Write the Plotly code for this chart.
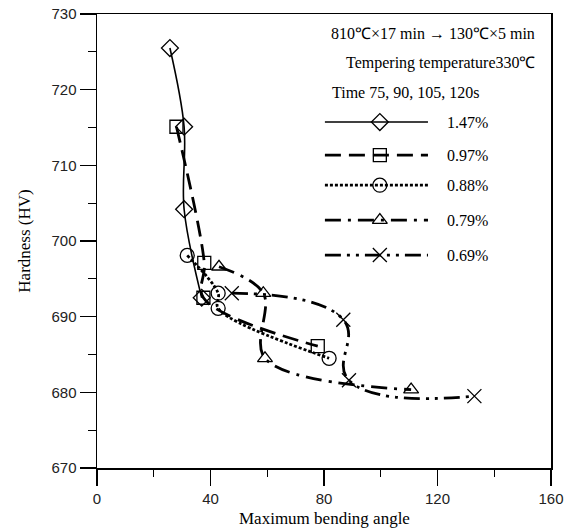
import plotly.graph_objects as go

# ---- data ----
series_names = ["1.47%", "0.97%", "0.88%", "0.79%", "0.69%"]
angle_147 = [25.7, 30.7, 30.7, 36.9]
hard_147 = [725.5, 715.1, 704.2, 692.5]
angle_097 = [28.0, 37.8, 37.5, 77.8]
hard_097 = [715.1, 697.1, 692.5, 686.1]
angle_088 = [31.8, 42.7, 42.7, 81.8]
hard_088 = [698.1, 693.1, 691.1, 684.5]
angle_079 = [43.0, 58.6, 59.2, 110.7]
hard_079 = [696.6, 693.1, 684.5, 680.35]
angle_069 = [47.5, 86.8, 88.8, 133.0]
hard_069 = [693.1, 689.6, 681.6, 679.5]

x_ticks = [0, 40, 80, 120, 160]
x_minor = [20, 60, 100, 140]
y_ticks = [670, 680, 690, 700, 710, 720, 730]
y_minor = [675, 685, 695, 705, 715, 725]

styles = [
    dict(symbol="diamond-open", dash="solid", width=1.6, size=13, smooth=1.0),
    dict(symbol="square-open", dash="16px,8px", width=2.8, size=13, smooth=1.0),
    dict(symbol="circle-open", dash="3px,2px", width=2.8, size=14, smooth=1.0),
    dict(symbol="triangle-up-open", dash="16px,7px,3px,7px", width=2.8, size=13, smooth=1.0),
    dict(symbol="x-thin-open", dash="16px,6px,3px,6px,3px,6px", width=2.8, size=14, smooth=1.3),
]
xs = [angle_147, angle_097, angle_088, angle_079, angle_069]
ys = [hard_147, hard_097, hard_088, hard_079, hard_069]

fig = go.Figure()
for name, x, y, st in zip(series_names, xs, ys, styles):
    fig.add_trace(go.Scatter(
        x=x, y=y, mode="lines", name=name, showlegend=False,
        line=dict(color="black", width=st["width"], dash=st["dash"],
                  shape="spline", smoothing=st["smooth"]),
        hoverinfo="skip"))
    fig.add_trace(go.Scatter(
        x=x, y=y, mode="markers", showlegend=False,
        marker=dict(symbol=st["symbol"], size=st["size"], color="black",
                    line=dict(color="black", width=1.3))))

# ---- hand-drawn legend on a hidden 0..1 axis pair ----
legend_rows = [0.762, 0.689, 0.623, 0.546, 0.469]
for name, row, st in zip(series_names, legend_rows, styles):
    fig.add_trace(go.Scatter(
        x=[0.502, 0.729], y=[row, row], xaxis="x2", yaxis="y2",
        mode="lines", showlegend=False, hoverinfo="skip",
        line=dict(color="black", width=st["width"], dash=st["dash"])))
    fig.add_trace(go.Scatter(
        x=[0.623], y=[row], xaxis="x2", yaxis="y2",
        mode="markers", showlegend=False, hoverinfo="skip",
        marker=dict(symbol=st["symbol"], size=st["size"], color="black",
                    line=dict(color="black", width=1.3))))
    fig.add_annotation(x=0.767, y=row, xref="paper", yref="paper",
                       text=name, showarrow=False, xanchor="left",
                       yanchor="middle",
                       font=dict(family="Liberation Serif", size=16,
                                 color="black"))

serif = dict(family="Liberation Serif", size=16, color="black")
fig.add_annotation(x=0.969, y=0.958, xref="paper", yref="paper",
                   text="810℃×17 min → 130℃×5 min", showarrow=False,
                   xanchor="right", yanchor="middle", font=serif)
fig.add_annotation(x=0.969, y=0.892, xref="paper", yref="paper",
                   text="Tempering temperature330℃", showarrow=False,
                   xanchor="right", yanchor="middle", font=serif)
fig.add_annotation(x=0.513, y=0.828, xref="paper", yref="paper",
                   text="Time 75, 90, 105, 120s", showarrow=False,
                   xanchor="left", yanchor="middle", font=serif)
# x-axis title placed as an annotation for exact vertical control
fig.add_annotation(x=0.5, y=0, xref="paper", yref="paper", yshift=-50,
                   text="Maximum bending angle", showarrow=False,
                   xanchor="center", yanchor="middle",
                   font=dict(family="Liberation Serif", size=17, color="black"))

fig.add_trace(go.Scatter(x=[0], y=[670], xaxis="x3", yaxis="y3", mode="markers",
                         marker=dict(opacity=0), showlegend=False, hoverinfo="skip"))

tickfont = dict(family="Liberation Sans", size=15, color="#222")
fig.update_layout(
    width=573, height=532,
    margin=dict(l=97, r=22, t=14, b=64, autoexpand=False),
    paper_bgcolor="white", plot_bgcolor="white",
    showlegend=False,
    xaxis=dict(range=[0, 160], tickvals=x_ticks, ticktext=[str(v) for v in x_ticks],
               ticks="outside", ticklen=16, tickwidth=1.2, tickcolor="black",
               showline=True, linecolor="black", linewidth=1.5, mirror=True,
               showgrid=False, zeroline=False, tickfont=tickfont),
    yaxis=dict(range=[670, 730], tickvals=y_ticks, ticktext=[str(v) for v in y_ticks],
               ticks="outside", ticklen=16, tickwidth=1.2, tickcolor="black",
               showline=True, linecolor="black", linewidth=1.5, mirror=True,
               showgrid=False, zeroline=False, tickfont=tickfont,
               title=dict(text="Hardness (HV)",
                          font=dict(family="Liberation Serif", size=17,
                                    color="black"), standoff=16)),
    xaxis2=dict(overlaying="x", range=[0, 1], visible=False, fixedrange=True),
    yaxis2=dict(overlaying="y", range=[0, 1], visible=False, fixedrange=True),
    xaxis3=dict(overlaying="x", anchor="y", range=[0, 160], tickvals=x_minor, ticks="outside",
                ticklen=8, tickwidth=1.2, tickcolor="black", showticklabels=False,
                showline=False, showgrid=False, zeroline=False, side="bottom"),
    yaxis3=dict(overlaying="y", anchor="x", range=[670, 730], tickvals=y_minor, ticks="outside",
                ticklen=8, tickwidth=1.2, tickcolor="black", showticklabels=False,
                showline=False, showgrid=False, zeroline=False, side="left"),
)

fig.write_html("out.html",
               config={"displayModeBar": False, "staticPlot": True},
               post_script="document.body.style.margin='0';"
                           "document.body.style.overflow='hidden';")
